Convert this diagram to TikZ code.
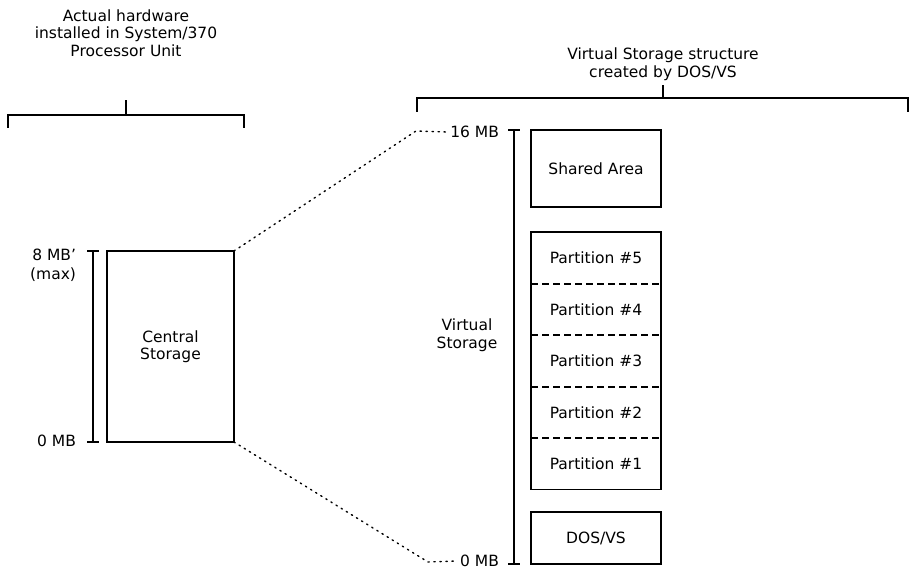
\documentclass[tikz,border=0pt]{standalone}
\usepackage{fontspec}
\setmainfont{DejaVu Sans}
\usetikzlibrary{positioning,calc}

\tikzset{
  lbl/.style={font=\fontsize{15.5}{17.5}\selectfont, inner sep=0pt, outer sep=0pt, align=center},
  stbox/.style={draw, line width=1.6pt, lbl, minimum width=130pt},
  cell/.style={lbl, minimum width=130pt, minimum height=51.5pt},
  dotline/.style={line width=1.4pt, dash pattern=on 1.4pt off 4.6pt, line cap=round}
}

\begin{document}
\begin{tikzpicture}[x=1pt,y=-1pt,line width=1.6pt]
\useasboundingbox (0,0) rectangle (913,572);

% headings and brackets
\node[lbl] (hwtext) at (126,33) {Actual hardware\\installed in System/370\\Processor Unit};
\node[lbl] (vstext) at (663,64) {Virtual Storage structure\\created by DOS/VS};
\draw (8,128) -- (8,115) -- (244,115) -- (244,128);
\draw (126,115) -- (126,100);
\draw (417,112) -- (417,98) -- (908,98) -- (908,112);
\draw (663,98) -- (663,85);

% real storage
\node[draw, line width=1.6pt, lbl, minimum width=127pt, minimum height=191pt] (cs) at (170.5,346.5) {Central\\Storage};
\coordinate (lt) at (93,251);
\coordinate (lb) at (93,442);
\draw (lt) -- (lb);
\draw ($(lt)+(-6,0)$) -- ($(lt)+(6,0)$);
\draw ($(lb)+(-6,0)$) -- ($(lb)+(6,0)$);
\node[lbl, anchor=east] (maxlbl) at (76,255) {8 MB'};
\node[lbl, anchor=east] (maxnote) at (76,275) {(max)};
\node[lbl, anchor=east] (lzero) at (76,441) {0 MB};

% virtual storage scale
\coordinate (rt) at (514,130);
\coordinate (rb) at (514,564);
\draw (rt) -- (rb);
\draw ($(rt)+(-6,0)$) -- ($(rt)+(6,0)$);
\draw ($(rb)+(-6,0)$) -- ($(rb)+(6,0)$);
\node[lbl, anchor=east] (top16) at (499,132) {16 MB};
\node[lbl, anchor=east] (rzero) at (499,561) {0 MB};
\node[lbl] (vslbl) at (467,335) {Virtual\\Storage};

% mapping lines
\coordinate (bendtop) at (416,131);
\coordinate (bendbot) at (428,562);
\draw[dotline] (cs.north east) -- (bendtop) -- ($(top16.west)+(-4,0)$);
\draw[dotline] (cs.south east) -- (bendbot) -- ($(rzero.west)+(-4,0)$);

% areas
\node[stbox, minimum height=77pt] (shared) at (596,168.5) {Shared Area};
\node[cell] (p5) at (596,257.75) {Partition \#5};
\node[cell, below=0pt of p5] (p4) {Partition \#4};
\node[cell, below=0pt of p4] (p3) {Partition \#3};
\node[cell, below=0pt of p3] (p2) {Partition \#2};
\node[cell, below=0pt of p2] (p1) {Partition \#1};
\draw (p5.north west) rectangle (p1.south east);
\foreach \i in {5,4,3,2} {
  \draw[line width=2pt, dash pattern=on 7pt off 4pt] (p\i.south west) -- (p\i.south east);
}
\node[stbox, minimum height=52pt] (dos) at (596,538) {DOS/VS};
\end{tikzpicture}
\end{document}
